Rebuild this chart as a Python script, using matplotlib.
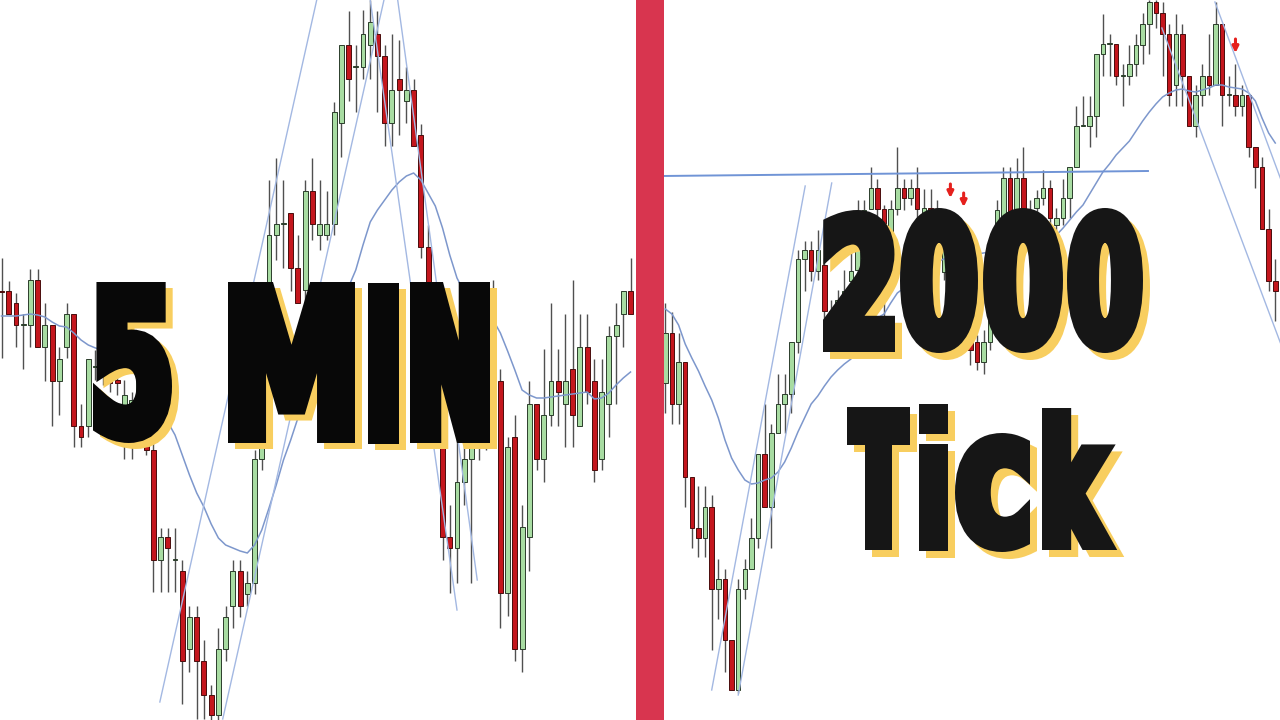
import matplotlib
matplotlib.use('Agg')
import matplotlib.pyplot as plt
import numpy as np
from matplotlib.patches import PathPatch, Rectangle
from matplotlib.textpath import TextPath
from matplotlib.transforms import Affine2D
from matplotlib.font_manager import FontProperties, findfont

# ---------------- 5 MIN chart (left) ----------------
min5_open = [429, 429, 417, 395, 395, 440, 373, 395, 339, 373,
             406, 294, 294, 353, 353, 347, 340, 300, 300, 305,
             345, 270, 160, 183, 160, 149, 71, 103, 59, 25,
             5, 71, 114, 149, 126, 137, 261, 390, 485, 496,
             507, 452, 430, 529, 485, 485, 496, 597, 675, 653,
             653, 675, 686, 664, 597, 641, 619, 630, 585, 473,
             420, 330, 183, 172, 238, 261, 300, 290, 390, 339,
             127, 283, 71, 183, 316, 261, 305, 339, 316, 351,
             294, 373, 339, 261, 316, 384, 406, 429]
min5_high = [462, 439, 427, 406, 451, 451, 417, 395, 373, 417,
             406, 316, 361, 370, 365, 360, 350, 340, 328, 351,
             355, 280, 192, 192, 192, 160, 114, 114, 80, 35,
             92, 114, 160, 160, 149, 270, 400, 540, 562, 540,
             507, 485, 540, 562, 540, 529, 618, 675, 709, 675,
             710, 720, 709, 675, 686, 680, 653, 641, 596, 495,
             430, 340, 215, 282, 283, 273, 320, 330, 440, 351,
             283, 305, 215, 339, 316, 371, 417, 371, 406, 440,
             406, 406, 361, 361, 394, 417, 429, 462]
min5_low = [362, 406, 373, 351, 373, 373, 339, 294, 305, 362,
            273, 273, 283, 340, 335, 328, 325, 261, 261, 305,
            265, 128, 128, 128, 128, 16, 48, 1, 1, 0,
            0, 59, 92, 103, 114, 126, 250, 380, 460, 452,
            429, 417, 410, 480, 470, 480, 485, 563, 619, 608,
            641, 641, 608, 574, 574, 585, 597, 574, 462, 410,
            330, 160, 127, 137, 215, 137, 260, 270, 330, 92,
            104, 59, 48, 149, 250, 238, 294, 294, 273, 273,
            294, 316, 238, 250, 283, 316, 373, 406]
min5_close = [428, 406, 395, 395, 440, 373, 395, 339, 361, 406,
              294, 283, 361, 353, 345, 337, 337, 325, 320, 351,
              270, 160, 183, 172, 160, 59, 103, 59, 25, 5,
              71, 103, 149, 114, 137, 261, 390, 485, 496, 496,
              452, 417, 529, 496, 496, 496, 608, 675, 641, 653,
              686, 698, 664, 597, 630, 630, 630, 574, 473, 420,
              340, 183, 172, 238, 261, 273, 275, 320, 340, 127,
              273, 71, 193, 316, 261, 305, 339, 328, 339, 305,
              373, 328, 250, 328, 384, 395, 429, 406]
min5_ma = [404, 404, 404, 405, 406, 405, 403, 398, 394, 393,
           387, 380, 375, 372, 370, 365, 360, 356, 352, 345,
           332, 322, 310, 298, 285, 265, 245, 227, 213, 196,
           182, 175, 172, 169, 167, 175, 190, 212, 235, 260,
           280, 302, 325, 348, 365, 382, 398, 420, 433, 450,
           475, 498, 510, 520, 530, 538, 544, 547, 540, 527,
           514, 492, 465, 442, 428, 418, 412, 406, 400, 387,
           369, 350, 330, 325, 322, 322, 323, 324, 325, 326,
           327, 328, 321, 322, 327, 335, 342, 348]
# trend lines as (bar index, price) end points
min5_trends = [[(21.9, 18), (43.6, 720)],
               [(30.6, 1), (52.9, 720)],
               [(51.0, 720), (63.0, 110)],
               [(54.8, 720), (65.8, 140)]]

# ---------------- 2000 Tick chart (right) ----------------
tick_open = [337, 387, 316, 358, 243, 192, 182, 213, 131, 141,
             80, 30, 131, 151, 182, 266, 213, 287, 316, 326,
             378, 461, 470, 449, 455, 409, 405, 423, 439, 450,
             485, 511, 532, 511, 450, 511, 532, 522, 532, 490,
             512, 495, 448, 478, 450, 420, 380, 378, 358, 378,
             420, 500, 542, 505, 542, 490, 512, 522, 532, 495,
             502, 522, 553, 594, 594, 604, 666, 676, 676, 644,
             644, 656, 675, 696, 718, 707, 686, 635, 686, 644,
             594, 625, 644, 635, 696, 625, 625, 614, 625, 573,
             553, 491, 439]
tick_high = [417, 408, 387, 358, 243, 234, 234, 225, 161, 151,
             80, 141, 161, 202, 266, 316, 296, 346, 346, 378,
             470, 479, 479, 490, 462, 420, 430, 450, 470, 520,
             520, 553, 541, 515, 520, 573, 541, 541, 553, 531,
             531, 520, 490, 500, 460, 430, 395, 385, 390, 430,
             520, 553, 553, 562, 573, 520, 530, 550, 540, 512,
             541, 553, 614, 624, 624, 666, 706, 686, 676, 656,
             675, 686, 707, 720, 720, 718, 696, 706, 696, 644,
             635, 656, 686, 718, 696, 644, 656, 635, 625, 573,
             563, 511, 461]
tick_low = [307, 296, 296, 213, 172, 163, 163, 70, 101, 48,
            30, 27, 121, 151, 172, 213, 172, 287, 287, 307,
            367, 429, 439, 440, 395, 390, 395, 415, 420, 445,
            480, 511, 495, 399, 440, 505, 510, 515, 500, 480,
            485, 470, 440, 440, 410, 370, 355, 350, 346, 370,
            410, 490, 495, 495, 461, 480, 500, 515, 495, 488,
            495, 502, 553, 594, 573, 583, 644, 644, 635, 614,
            635, 644, 656, 666, 692, 644, 614, 614, 614, 594,
            583, 614, 625, 635, 594, 614, 604, 604, 563, 532,
            491, 429, 399]
tick_close = [387, 316, 358, 243, 192, 182, 213, 131, 141, 80,
              30, 131, 151, 182, 266, 213, 287, 316, 326, 378,
              461, 470, 449, 470, 409, 403, 420, 429, 449, 490,
              510, 532, 511, 440, 511, 532, 522, 532, 511, 512,
              495, 480, 478, 450, 420, 380, 370, 358, 378, 420,
              510, 542, 505, 542, 490, 505, 522, 532, 502, 502,
              522, 553, 594, 594, 604, 666, 676, 676, 644, 644,
              656, 675, 696, 718, 707, 686, 625, 686, 644, 594,
              625, 644, 635, 696, 625, 625, 614, 625, 573, 553,
              491, 439, 429]
tick_ma = [411, 406, 395, 376, 362, 349, 334, 320, 302, 280,
           262, 250, 240, 236, 237, 240, 242, 248, 258, 272,
           288, 302, 316, 324, 334, 343, 350, 356, 361, 375,
           390, 399, 402, 406, 417, 427, 432, 438, 444, 450,
           454, 458, 461, 462, 463, 464, 465, 466, 467, 468,
           469, 469, 470, 470, 472, 475, 478, 480, 483, 485,
           492, 500, 508, 515, 526, 537, 548, 556, 565, 572,
           579, 589, 599, 608, 616, 623, 627, 630, 631, 629,
           628, 630, 632, 635, 635, 633, 632, 631, 627, 619,
           602, 587, 577]
tick_level = [(-0.5, 544), (72.8, 549)]
tick_trends = [[(7.0, 30), (21.1, 534)],
               [(11.0, 25), (25.1, 537)],
               [(82.9, 718), (95.0, 502)],
               [(74.9, 692), (95.0, 338)]]
signal_idx = [43, 45, 86]
signal_price = [522, 513, 667]

GREEN = '#a8dca2'
RED = '#c4161d'
MA_COLOR = '#7d97cc'
TREND_COLOR = '#a3b8e2'


def draw_candles(ax, o, h, l, c, width=0.68):
    o, h, l, c = map(np.asarray, (o, h, l, c))
    x = np.arange(len(o))
    up = c >= o
    ax.vlines(x, l, h, color='#505050', lw=1.0, zorder=2)
    bottom = np.minimum(o, c)
    height = np.maximum(np.abs(c - o), 1)
    ax.bar(x[up], height[up], width, bottom[up], color=GREEN,
           edgecolor='#2b3d2b', linewidth=0.7, zorder=3)
    ax.bar(x[~up], height[~up], width, bottom[~up], color=RED,
           edgecolor='#4a0d0d', linewidth=0.7, zorder=3)


fig = plt.figure(figsize=(12.8, 7.2), dpi=100)
fig.patch.set_facecolor('white')

# left panel: 0..636 px, bar spacing 7.23 px, first bar at 1.5 px
ax1 = fig.add_axes([0, 0, 636 / 1280, 1])
draw_candles(ax1, min5_open, min5_high, min5_low, min5_close)
ax1.plot(np.arange(len(min5_ma)), min5_ma, color=MA_COLOR, lw=1.1, zorder=4)
for (xa, ya), (xb, yb) in min5_trends:
    ax1.plot([xa, xb], [ya, yb], color=TREND_COLOR, lw=1.0, zorder=4)
ax1.set_xlim(-1.5 / 7.23, 634.5 / 7.23)
ax1.set_ylim(0, 720)
ax1.axis('off')

# right panel: 664..1280 px, bar spacing 6.63 px, first bar at 665.3 px
ax2 = fig.add_axes([664 / 1280, 0, 616 / 1280, 1])
draw_candles(ax2, tick_open, tick_high, tick_low, tick_close)
ax2.plot(np.arange(len(tick_ma)), tick_ma, color=MA_COLOR, lw=1.1, zorder=4)
ax2.plot([p[0] for p in tick_level], [p[1] for p in tick_level],
         color='#7094d6', lw=1.4, zorder=4)
for (xa, ya), (xb, yb) in tick_trends:
    ax2.plot([xa, xb], [ya, yb], color=TREND_COLOR, lw=1.0, zorder=4)
for xi, yi in zip(signal_idx, signal_price):
    ax2.annotate('', xy=(xi, yi), xytext=(xi, yi + 14),
                 arrowprops=dict(arrowstyle='-|>', color='#e5201d', lw=2.2,
                                 mutation_scale=9, shrinkA=0, shrinkB=0),
                 zorder=5)
ax2.set_xlim(-1.3 / 6.63, 614.7 / 6.63)
ax2.set_ylim(0, 720)
ax2.axis('off')

# overlay in pixel units for the divider and the big titles
ov = fig.add_axes([0, 0, 1, 1], zorder=10)
ov.set_xlim(0, 1280)
ov.set_ylim(720, 0)
ov.axis('off')
ov.patch.set_alpha(0)
ov.add_patch(Rectangle((636, 0), 28, 720, color='#d8354f', lw=0))

try:
    findfont(FontProperties(family='Liberation Sans Narrow', weight='bold'),
             fallback_to_default=False)
    heavy = FontProperties(family='Liberation Sans Narrow', weight='bold')
except ValueError:
    heavy = FontProperties(family='DejaVu Sans', weight='bold')


def glyph(ch, box, color, pad=6.5, dx=0, dy=0):
    """Fit one character into box=(left, right, top, bottom) in pixels;
    the outline stroke of width 2*pad thickens the letter like a heavy face."""
    path = TextPath((0, 0), ch, size=100, prop=heavy)
    ext = path.get_extents()
    x0, x1, top, bottom = box
    sx = (x1 - x0 - 2 * pad) / (ext.x1 - ext.x0)
    sy = (bottom - top - 2 * pad) / (ext.y1 - ext.y0)
    tr = (Affine2D().translate(-ext.x0, -ext.y0).scale(sx, -sy)
          .translate(x0 + pad + dx, bottom - pad + dy))
    ov.add_patch(PathPatch(tr.transform_path(path), fc=color, ec=color,
                           lw=pad * 2 * 0.72, joinstyle='miter'))


SHADOW = '#f8ce5f'
# (character, box, stroke pad) -- the 'i' keeps a thin stroke so its dot stays apart
title_5min = [('5', (93, 172, 282, 443), 6.5), ('M', (228, 355, 282, 443), 6.5),
              ('I', (367, 398, 282, 443), 6.5), ('N', (410, 490, 282, 443), 6.5)]
title_tick = [('2', (823, 895, 210, 352), 6.0), ('0', (900, 978, 208, 353), 6.0),
              ('0', (983, 1063, 208, 353), 6.0), ('0', (1067, 1143, 208, 353), 6.0),
              ('T', (847, 910, 407, 550), 6.0), ('i', (918, 947, 403, 550), 1.5),
              ('c', (955, 1030, 433, 552), 6.0), ('k', (1042, 1113, 408, 550), 6.0)]
for ch, box, pad in title_5min:
    glyph(ch, box, SHADOW, pad=pad, dx=7, dy=6)
for ch, box, pad in title_5min:
    glyph(ch, box, '#080808', pad=pad)
for ch, box, pad in title_tick:
    glyph(ch, box, SHADOW, pad=pad, dx=7, dy=7)
for ch, box, pad in title_tick:
    glyph(ch, box, '#161616', pad=pad)

plt.savefig('out.png', dpi=100)
plt.close()
